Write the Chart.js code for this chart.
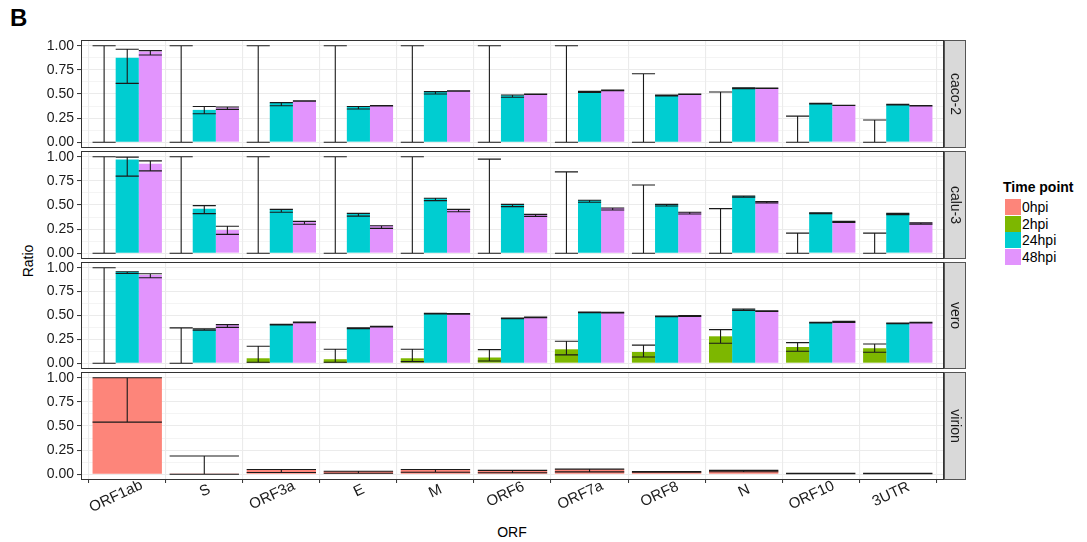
<!DOCTYPE html>
<html><head><meta charset="utf-8">
<script src="https://cdn.jsdelivr.net/npm/chart.js@4.4.0/dist/chart.umd.min.js"></script>
<style>
body{margin:0;background:#fff;width:1087px;height:542px;position:relative;overflow:hidden;font-family:"Liberation Sans",Arial,Helvetica,sans-serif;color:#000;}
canvas{position:absolute;left:0;}
.t{position:absolute;white-space:nowrap;line-height:1;}
.key{position:absolute;left:1005px;width:16px;height:16px;}
.lab{position:absolute;left:1022px;font-size:14px;line-height:16px;}
</style></head><body>
<div class="t" style="left:10px;top:6px;font-size:24px;font-weight:bold;">B</div>
<div class="t" style="left:28px;top:261px;font-size:14px;transform:translate(-50%,-50%) rotate(-90deg);">Ratio</div>
<div class="t" style="left:512px;top:532px;font-size:14px;transform:translate(-50%,-50%);">ORF</div>
<div class="t" style="left:1003px;top:180px;font-size:14px;font-weight:bold;">Time point</div>
<div class="key" style="top:199px;background:#FD857A"></div><div class="lab" style="top:199px">0hpi</div>
<div class="key" style="top:215.5px;background:#7DB700"></div><div class="lab" style="top:215.5px">2hpi</div>
<div class="key" style="top:232px;background:#00CDD1"></div><div class="lab" style="top:232px">24hpi</div>
<div class="key" style="top:248.5px;background:#E294FD"></div><div class="lab" style="top:248.5px">48hpi</div>
<canvas id="c0"></canvas><canvas id="c1"></canvas><canvas id="c2"></canvas><canvas id="c3"></canvas>
<script>
// ---- data ----
const categories = ['ORF1ab','S','ORF3a','E','M','ORF6','ORF7a','ORF8','N','ORF10','3UTR'];
const timePoints = ['0hpi','2hpi','24hpi','48hpi'];
const yTicks = [0, 0.25, 0.5, 0.75, 1.0];

// caco-2
const caco2_2hpi    = [0,0,0,0,0,0,0,0,0,0,0];
const caco2_2hpi_lo = [0,0,0,0,0,0,0,0,0,0,0];
const caco2_2hpi_hi = [1,1,1,1,1,1,1,0.71,0.52,0.27,0.23];
const caco2_24hpi    = [0.875,0.335,0.41,0.37,0.52,0.488,0.526,0.49,0.564,0.40,0.39];
const caco2_24hpi_lo = [0.61,0.295,0.378,0.345,0.50,0.467,0.515,0.48,0.555,0.397,0.387];
const caco2_24hpi_hi = [0.965,0.37,0.41,0.37,0.525,0.49,0.527,0.49,0.565,0.403,0.393];
const caco2_48hpi    = [0.94,0.36,0.43,0.38,0.533,0.498,0.54,0.498,0.56,0.38,0.377];
const caco2_48hpi_lo = [0.905,0.34,0.425,0.375,0.53,0.495,0.535,0.495,0.558,0.38,0.375];
const caco2_48hpi_hi = [0.95,0.365,0.43,0.38,0.533,0.5,0.54,0.5,0.562,0.383,0.38];

// calu-3
const calu3_2hpi    = [0,0,0,0,0,0,0,0,0,0,0];
const calu3_2hpi_lo = [0,0,0,0,0,0,0,0,0,0,0];
const calu3_2hpi_hi = [1,1,1,1,1,0.976,0.844,0.708,0.462,0.208,0.208];
const calu3_24hpi    = [0.972,0.462,0.455,0.413,0.57,0.507,0.549,0.507,0.594,0.42,0.413];
const calu3_24hpi_lo = [0.80,0.41,0.424,0.385,0.545,0.483,0.528,0.49,0.58,0.41,0.40];
const calu3_24hpi_hi = [0.997,0.493,0.455,0.413,0.57,0.507,0.549,0.507,0.594,0.42,0.413];
const calu3_48hpi    = [0.927,0.24,0.33,0.285,0.455,0.403,0.469,0.424,0.535,0.33,0.316];
const calu3_48hpi_lo = [0.854,0.195,0.30,0.257,0.43,0.382,0.448,0.406,0.52,0.32,0.302];
const calu3_48hpi_hi = [0.958,0.28,0.33,0.285,0.455,0.403,0.469,0.424,0.535,0.33,0.316];

// vero
const vero_2hpi    = [0,0,0.052,0.042,0.052,0.06,0.146,0.118,0.282,0.17,0.157];
const vero_2hpi_lo = [0,0,0.01,0.01,0.017,0.024,0.087,0.066,0.209,0.125,0.115];
const vero_2hpi_hi = [1,0.37,0.178,0.146,0.146,0.143,0.23,0.19,0.352,0.216,0.202];
const vero_24hpi    = [0.958,0.352,0.408,0.37,0.523,0.474,0.537,0.495,0.564,0.428,0.42];
const vero_24hpi_lo = [0.94,0.345,0.40,0.363,0.516,0.467,0.53,0.488,0.554,0.421,0.413];
const vero_24hpi_hi = [0.958,0.36,0.408,0.37,0.523,0.474,0.537,0.495,0.568,0.43,0.42];
const vero_48hpi    = [0.923,0.40,0.432,0.387,0.52,0.484,0.533,0.498,0.55,0.435,0.428];
const vero_48hpi_lo = [0.895,0.376,0.425,0.38,0.513,0.477,0.526,0.491,0.543,0.428,0.421];
const vero_48hpi_hi = [0.937,0.404,0.432,0.387,0.52,0.484,0.533,0.5,0.55,0.438,0.43];

// virion
const virion_0hpi    = [1.0,0.003,0.045,0.031,0.045,0.038,0.05,0.028,0.038,0.008,0.006];
const virion_0hpi_lo = [0.54,0,0.017,0.01,0.02,0.015,0.024,0.02,0.025,0.005,0.004];
const virion_0hpi_hi = [1.0,0.188,0.049,0.031,0.049,0.04,0.052,0.028,0.04,0.01,0.008];

// ---- styling ----
const COLORS = {'0hpi':'#FD857A','2hpi':'#7DB700','24hpi':'#00CDD1','48hpi':'#E294FD'};
const FONT = '"Liberation Sans", Arial, Helvetica, sans-serif';

const panels = [
  {id:'c0', strip:'caco-2', top:41, bottom:147, series:[
    ['2hpi', caco2_2hpi, caco2_2hpi_lo, caco2_2hpi_hi],
    ['24hpi', caco2_24hpi, caco2_24hpi_lo, caco2_24hpi_hi],
    ['48hpi', caco2_48hpi, caco2_48hpi_lo, caco2_48hpi_hi]]},
  {id:'c1', strip:'calu-3', top:152, bottom:258, series:[
    ['2hpi', calu3_2hpi, calu3_2hpi_lo, calu3_2hpi_hi],
    ['24hpi', calu3_24hpi, calu3_24hpi_lo, calu3_24hpi_hi],
    ['48hpi', calu3_48hpi, calu3_48hpi_lo, calu3_48hpi_hi]]},
  {id:'c2', strip:'vero', top:263, bottom:368, series:[
    ['2hpi', vero_2hpi, vero_2hpi_lo, vero_2hpi_hi],
    ['24hpi', vero_24hpi, vero_24hpi_lo, vero_24hpi_hi],
    ['48hpi', vero_48hpi, vero_48hpi_lo, vero_48hpi_hi]]},
  {id:'c3', strip:'virion', top:373, bottom:479, last:true, series:[
    ['0hpi', virion_0hpi, virion_0hpi_lo, virion_0hpi_hi]]}
];

const isMajor = v => Math.abs(v*4 - Math.round(v*4)) < 1e-9;

const errorBars = {
  id:'errorBars',
  afterDatasetsDraw(chart){
    const ctx = chart.ctx, ys = chart.scales.y;
    ctx.save();
    ctx.strokeStyle = '#1a1a1a';
    ctx.lineWidth = 1.1;
    chart.data.datasets.forEach((ds, i) => {
      const meta = chart.getDatasetMeta(i);
      meta.data.forEach((bar, j) => {
        const x = bar.x, hw = bar.width/2;
        const yl = ys.getPixelForValue(ds.errLo[j]);
        const yh = ys.getPixelForValue(ds.errHi[j]);
        ctx.beginPath();
        ctx.moveTo(x-hw, yh); ctx.lineTo(x+hw, yh);
        ctx.moveTo(x-hw, yl); ctx.lineTo(x+hw, yl);
        ctx.moveTo(x, yh); ctx.lineTo(x, yl);
        ctx.stroke();
      });
    });
    ctx.restore();
  }
};

const frame = {
  id:'frame',
  afterDraw(chart, args, opts){
    const ctx = chart.ctx, a = chart.chartArea;
    ctx.save();
    ctx.strokeStyle = '#333';
    ctx.lineWidth = 1;
    ctx.strokeRect(Math.round(a.left)+0.5, Math.round(a.top)-0.5, Math.round(a.right-a.left)-1, Math.round(a.bottom-a.top)+1);
    // strip
    const sx = Math.round(a.right)+0.5, sw = 21;
    ctx.fillStyle = '#d9d9d9';
    ctx.fillRect(sx, a.top-0.5, sw, a.bottom-a.top+1);
    ctx.strokeStyle = '#555';
    ctx.strokeRect(sx, Math.round(a.top)-0.5, sw, Math.round(a.bottom-a.top)+1);
    ctx.fillStyle = '#1a1a1a';
    ctx.font = '14px ' + FONT;
    ctx.textAlign = 'center';
    ctx.textBaseline = 'middle';
    ctx.translate(sx + sw/2, (a.top+a.bottom)/2);
    ctx.rotate(Math.PI/2);
    ctx.fillText(opts.label, 0, 0);
    ctx.restore();
    if (opts.xLabels) {
      const xs = chart.scales.x;
      ctx.save();
      ctx.fillStyle = '#1a1a1a';
      ctx.font = '15px ' + FONT;
      ctx.textAlign = 'left';
      ctx.textBaseline = 'top';
      categories.forEach((c, i) => {
        const w = ctx.measureText(c).width;
        ctx.save();
        ctx.translate(xs.getPixelForValue(i), a.bottom + 4);
        ctx.rotate(-25*Math.PI/180);
        ctx.fillText(c, -0.78*w, 0);
        ctx.restore();
      });
      ctx.restore();
    }
  }
};

panels.forEach(p => {
  const cv = document.getElementById(p.id);
  const padTop = 12, padBottom = p.last ? 37 : 12, axisH = p.last ? 4 : 0;
  const W = 970, H = (p.bottom - p.top) + padTop + padBottom + axisH;
  cv.width = W; cv.height = H;
  cv.style.width = W+'px'; cv.style.height = H+'px';
  cv.style.top = (p.top - padTop) + 'px';
  new Chart(cv, {
    type:'bar',
    data:{
      datasets: p.series.map(s => ({
        label: s[0],
        data: s[1].map((v,i) => ({x:i, y:v})),
        errLo: s[2], errHi: s[3],
        backgroundColor: COLORS[s[0]],
        borderWidth: 0,
        categoryPercentage: 0.9,
        barPercentage: 1.0
      }))
    },
    options:{
      responsive:false,
      animation:false,
      devicePixelRatio:1,
      layout:{padding:{left:0, right:W-944, top:padTop, bottom:padBottom}},
      plugins:{legend:{display:false}, tooltip:{enabled:false}, frame:{label:p.strip, xLabels:!!p.last}},
      scales:{
        x:{
          type:'linear', min:-0.6, max:10.6, offset:false,
          ticks:{display:false, stepSize:1, includeBounds:false, autoSkip:false},
          grid:{color:'#ebebeb', lineWidth:1.1, drawTicks:!!p.last, tickLength:4, tickColor:'#333', tickWidth:1},
          border:{display:false},
          afterFit: s => { s.height = axisH; }
        },
        y:{
          min:-0.05, max:1.05,
          ticks:{stepSize:0.125, includeBounds:false, autoSkip:false, color:'#1a1a1a', padding:3,
                 font:{family:FONT, size:14},
                 callback: v => isMajor(v) ? v.toFixed(2) : ''},
          grid:{
            color:'#ebebeb',
            lineWidth: c => (c.tick && !isMajor(c.tick.value)) ? 0.55 : 1.1,
            tickColor: c => (c.tick && !isMajor(c.tick.value)) ? 'rgba(0,0,0,0)' : '#333',
            tickLength:4, tickWidth:1
          },
          border:{display:false},
          afterFit: s => { s.width = 81; }
        }
      }
    },
    plugins:[errorBars, frame]
  });
});
</script>
</body></html>
